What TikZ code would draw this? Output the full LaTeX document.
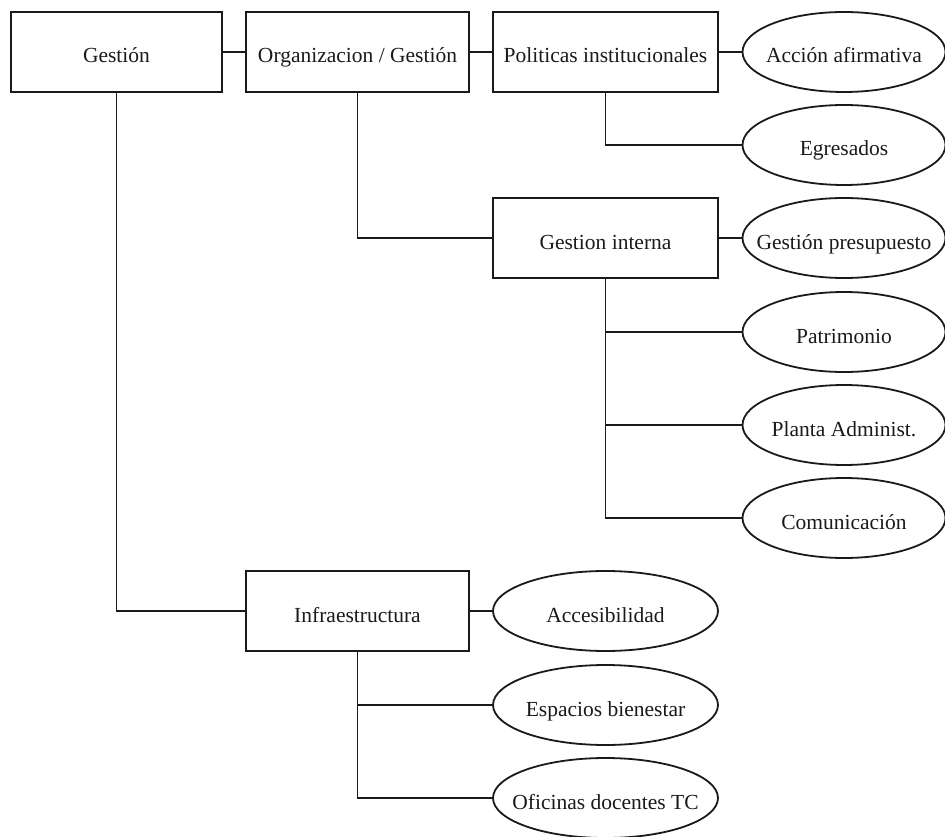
\documentclass[tikz,border=0pt]{standalone}
\usepackage{fontspec}
\setmainfont{Liberation Serif}
\usetikzlibrary{shapes.geometric}
\definecolor{ink}{HTML}{1A1A1A}
\tikzset{
  boxnode/.style={draw=ink, line width=1.8pt, rectangle, inner sep=0pt, outer sep=0pt,
    minimum width=223pt, minimum height=80pt, text height=22pt, text depth=0pt,
    font=\fontsize{21.5}{24}\selectfont, text=ink},
  ellnode/.style={draw=ink, line width=1.8pt, ellipse, inner sep=0pt, outer sep=0pt,
    minimum width=203pt, minimum height=80pt, text height=22pt, text depth=0pt,
    font=\fontsize{21.5}{24}\selectfont, text=ink},
  link/.style={draw=ink, line width=1.8pt},
  shortlink/.style={draw=ink, line width=2.6pt}
}
\newcommand{\etext}[1]{\makebox[0pt]{#1}}
\begin{document}
\begin{tikzpicture}[x=1pt,y=-1pt]
\useasboundingbox[fill=white] (0,0) rectangle (945,837);
% boxes
\node[boxnode, minimum width=211pt] (gestion) at (116.5,52) {Gestión};
\node[boxnode] (org) at (357.5,52) {Organizacion / Gestión};
\node[boxnode, minimum width=225pt] (pol) at (605.5,52) {Politicas institucionales};
\node[boxnode, minimum width=225pt] (gint) at (605.5,238) {Gestion interna};
\node[boxnode] (infra) at (357.5,611) {Infraestructura};
% right ellipses
\node[ellnode] (accion) at (844,52) {\etext{Acción afirmativa}};
\node[ellnode] (egr) at (844,145) {\etext{Egresados}};
\node[ellnode] (gpres) at (844,238) {\etext{Gestión presupuesto}};
\node[ellnode] (patr) at (844,332) {\etext{Patrimonio}};
\node[ellnode] (planta) at (844,425) {\etext{Planta Administ.}};
\node[ellnode] (comun) at (844,518) {\etext{Comunicación}};
% bottom ellipses
\node[ellnode, minimum width=225pt] (acces) at (605.5,611) {\etext{Accesibilidad}};
\node[ellnode, minimum width=225pt] (esp) at (605.5,705) {\etext{Espacios bienestar}};
\node[ellnode, minimum width=225pt] (ofic) at (605.5,798) {\etext{Oficinas docentes TC}};
% connectors
\draw[shortlink] (gestion.east) -- (org.west);
\draw[shortlink] (org.east) -- (pol.west);
\draw[shortlink] (pol.east) -- (accion.west);
\draw[shortlink] (gint.east) -- (gpres.west);
\draw[shortlink] (infra.east) -- (acces.west);
\draw[link] (pol.south) |- (egr.west);
\draw[link] (org.south) |- (gint.west);
\draw[link] (gint.south) |- (patr.west);
\draw[link] (gint.south) |- (planta.west);
\draw[link] (gint.south) |- (comun.west);
\draw[link] (gestion.south) |- (infra.west);
\draw[link] (infra.south) |- (esp.west);
\draw[link] (infra.south) |- (ofic.west);
\end{tikzpicture}
\end{document}
